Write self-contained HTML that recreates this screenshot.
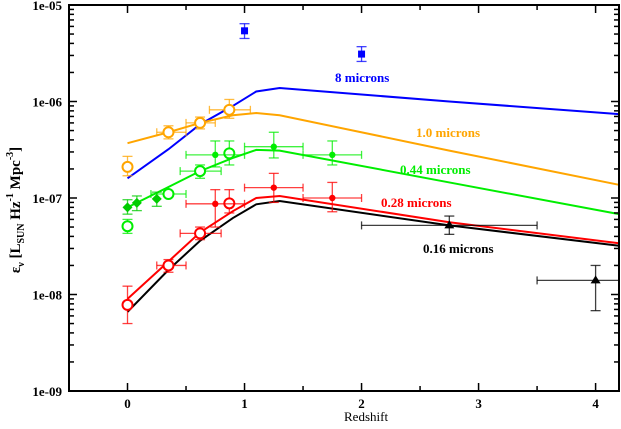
<!DOCTYPE html>
<html><head><meta charset="utf-8"><style>
body{margin:0;background:#fff;}
svg text{font-family:"Liberation Serif",serif;}
</style></head><body>
<svg id="chart" width="621" height="424" xmlns="http://www.w3.org/2000/svg">
<g id="lines"></g><g id="pts"></g><g id="axes"></g>
<text x="335" y="82" fill="#0000ff" font-weight="bold" font-size="13">8 microns</text>
<text x="416" y="137" fill="#ffa500" font-weight="bold" font-size="13">1.0 microns</text>
<text x="400" y="174" fill="#00ee00" font-weight="bold" font-size="13">0.44 microns</text>
<text x="381" y="207" fill="#ff0000" font-weight="bold" font-size="13">0.28 microns</text>
<text x="423" y="253" fill="#000" font-weight="bold" font-size="13">0.16 microns</text>
<text x="344" y="421" font-size="13">Redshift</text>
<g transform="translate(20,210) rotate(-90)">
<text text-anchor="middle" font-size="15" font-weight="bold">ε<tspan font-size="10" dy="4">ν</tspan><tspan dy="-4"> [L</tspan><tspan font-size="10" dy="4">SUN</tspan><tspan dy="-4"> Hz</tspan><tspan font-size="10" dy="-7">-1</tspan><tspan dy="7"> Mpc</tspan><tspan font-size="10" dy="-7">-3</tspan><tspan dy="7">]</tspan></text>
</g>
</svg>
<script>
const modelZ=[0,0.35,0.62,0.9,1.1,1.3,2.75,4.2];
const blueModel=[1.6e-7,3.2e-7,5.8e-7,9e-7,1.27e-6,1.38e-6,1.0e-6,7.4e-7];
const orangeModel=[3.7e-7,4.8e-7,6.0e-7,7.2e-7,7.6e-7,7.2e-7,3.1e-7,1.37e-7];
const greenModel=[8e-8,1.3e-7,1.9e-7,2.6e-7,3.15e-7,3.1e-7,1.45e-7,6.8e-8];
const redModel=[9e-9,2.2e-8,4.4e-8,7.3e-8,1.0e-7,1.05e-7,5.6e-8,3.4e-8];
const blackModel=[6.6e-9,1.8e-8,3.6e-8,6.2e-8,8.6e-8,9.3e-8,5.2e-8,3.2e-8];
// points: [z, val, zlo, zhi, vlo, vhi]
const bluePts=[[1.0,5.4e-6,1.0,1.0,4.5e-6,6.4e-6],[2.0,3.1e-6,2.0,2.0,2.6e-6,3.7e-6]];
const orangeOpen=[[0,2.1e-7,0,0,1.7e-7,2.7e-7],[0.35,4.8e-7,0.25,0.5,4.1e-7,5.6e-7],[0.62,6.0e-7,0.5,0.75,5.2e-7,6.9e-7],[0.87,8.2e-7,0.7,1.05,6.7e-7,1.05e-6]];
const greenDiam=[[0,8e-8,0,0,6.8e-8,9.6e-8],[0.08,8.9e-8,0.08,0.08,7.4e-8,1.05e-7],[0.25,9.8e-8,0.25,0.25,8.2e-8,1.15e-7]];
const greenOpen=[[0,5.1e-8,0,0,4.3e-8,6e-8],[0.35,1.1e-7,0.2,0.5,1.1e-7,1.1e-7],[0.62,1.9e-7,0.45,0.8,1.6e-7,2.2e-7],[0.87,2.9e-7,0.87,0.87,2.2e-7,3.9e-7]];
const greenFill=[[0.75,2.8e-7,0.5,1.0,2.1e-7,3.9e-7],[1.25,3.4e-7,1.0,1.5,2.6e-7,4.8e-7],[1.75,2.8e-7,1.5,2.0,2.2e-7,3.9e-7]];
const redOpen=[[0,7.8e-9,0,0,5e-9,1.22e-8],[0.35,2e-8,0.25,0.5,1.7e-8,2.3e-8],[0.62,4.3e-8,0.45,0.8,3.7e-8,5e-8],[0.87,8.8e-8,0.87,0.87,7e-8,1.22e-7]];
const redFill=[[0.75,8.7e-8,0.5,1.0,5e-8,1.22e-7],[1.25,1.28e-7,1.0,1.5,9e-8,1.8e-7],[1.75,1.0e-7,1.5,2.0,7.2e-8,1.45e-7]];
const blackTri=[[2.75,5.2e-8,2.0,3.5,4.2e-8,6.5e-8],[4.0,1.4e-8,3.5,4.2,6.8e-9,2e-8]];
const xTicks=[0,1,2,3,4];
const yTickExp=[-5,-6,-7,-8,-9];
const yTickLabels=["1e-05","1e-06","1e-07","1e-08","1e-09"];

const L=69,R=619,T=5,B=391,XMIN=-0.5,XMAX=4.2,YMIN=-9,YMAX=-5;
const sx=z=>L+(z-XMIN)/(XMAX-XMIN)*(R-L);
const sy=v=>B-(Math.log10(v)-YMIN)/(YMAX-YMIN)*(B-T);
const NS="http://www.w3.org/2000/svg";
function mk(tag,attrs,parent){const e=document.createElementNS(NS,tag);for(const k in attrs)e.setAttribute(k,attrs[k]);parent.appendChild(e);return e;}
const gl=document.getElementById('lines'),gp=document.getElementById('pts'),ga=document.getElementById('axes');
function line(vals,color,name){
  const p=mk('polyline',{points:modelZ.map((z,i)=>sx(z)+','+sy(vals[i])).join(' '),fill:'none',stroke:color,'stroke-width':2},gl);
  
  
}
line(blueModel,'#0000ff','model-8-microns');
line(orangeModel,'#ffa500','model-1-microns');
line(greenModel,'#00ee00','model-044-microns');
line(redModel,'#ff0000','model-028-microns');
line(blackModel,'#000000','model-016-microns');
function pts(arr,color,shape,name){
  arr.forEach(d=>{
    const g=mk('g',{},gp);
    
    
    const x=sx(d[0]),y=sy(d[1]),x0=sx(d[2]),x1=sx(d[3]),y0=sy(d[4]),y1=sy(d[5]);
    const st={stroke:color,'stroke-width':1.3,opacity:0.75};
    if(x1-x0>1){mk('line',Object.assign({x1:x0,x2:x1,y1:y,y2:y},st),g);mk('line',Object.assign({x1:x0,x2:x0,y1:y-4,y2:y+4},st),g);mk('line',Object.assign({x1:x1,x2:x1,y1:y-4,y2:y+4},st),g);}
    if(y0-y1>1){mk('line',Object.assign({x1:x,x2:x,y1:y0,y2:y1},st),g);mk('line',Object.assign({x1:x-5,x2:x+5,y1:y0,y2:y0},st),g);mk('line',Object.assign({x1:x-5,x2:x+5,y1:y1,y2:y1},st),g);}
    if(shape==='open')mk('circle',{cx:x,cy:y,r:5,fill:'#fff',stroke:color,'stroke-width':2},g);
    if(shape==='dot')mk('circle',{cx:x,cy:y,r:3.2,fill:color},g);
    if(shape==='sq')mk('rect',{x:x-3.5,y:y-3.5,width:7,height:7,fill:color},g);
    if(shape==='diam')mk('polygon',{points:`${x},${y-5} ${x+5},${y} ${x},${y+5} ${x-5},${y}`,fill:color},g);
    if(shape==='tri')mk('polygon',{points:`${x},${y-5} ${x+5},${y+3} ${x-5},${y+3}`,fill:color},g);
  });
}
pts(bluePts,'#0000ff','sq','point-8-microns');
pts(orangeOpen,'#ffa500','open','point-1-microns');
pts(greenDiam,'#00cc00','diam','point-044-diamond');
pts(greenOpen,'#00ee00','open','point-044-open');
pts(greenFill,'#00ee00','dot','point-044-filled');
pts(redOpen,'#ff0000','open','point-028-open');
pts(redFill,'#ff0000','dot','point-028-filled');
pts(blackTri,'#000','tri','point-016-triangle');
// axes
const fr=mk('rect',{x:L,y:T,width:R-L,height:B-T,fill:'none',stroke:'#000','stroke-width':2},ga);


for(let z=-0.5;z<=4.2;z+=0.5){const x=sx(z),maj=Math.abs(z-Math.round(z))<1e-6,len=maj?8:5;
  mk('line',{x1:x,x2:x,y1:B,y2:B-len,stroke:'#000','stroke-width':1.5},ga);mk('line',{x1:x,x2:x,y1:T,y2:T+len,stroke:'#000','stroke-width':1.5},ga);}
xTicks.forEach(t=>{const e=mk('text',{x:sx(t),y:B+17,'text-anchor':'middle','font-size':13,'font-weight':'bold'},ga);e.textContent=t;
  
  });
for(let e=-9;e<-5;e++)for(let m=1;m<10;m++){const y=sy(m*Math.pow(10,e)),len=m===1?8:5;
  mk('line',{x1:L,x2:L+len,y1:y,y2:y,stroke:'#000','stroke-width':1.5},ga);mk('line',{x1:R,x2:R-len,y1:y,y2:y,stroke:'#000','stroke-width':1.5},ga);}
yTickExp.forEach((ex,i)=>{const e=mk('text',{x:L-7,y:sy(Math.pow(10,ex))+5,'text-anchor':'end','font-size':13,'font-weight':'bold'},ga);e.textContent=yTickLabels[i];
  
  });
</script>
</body></html>
